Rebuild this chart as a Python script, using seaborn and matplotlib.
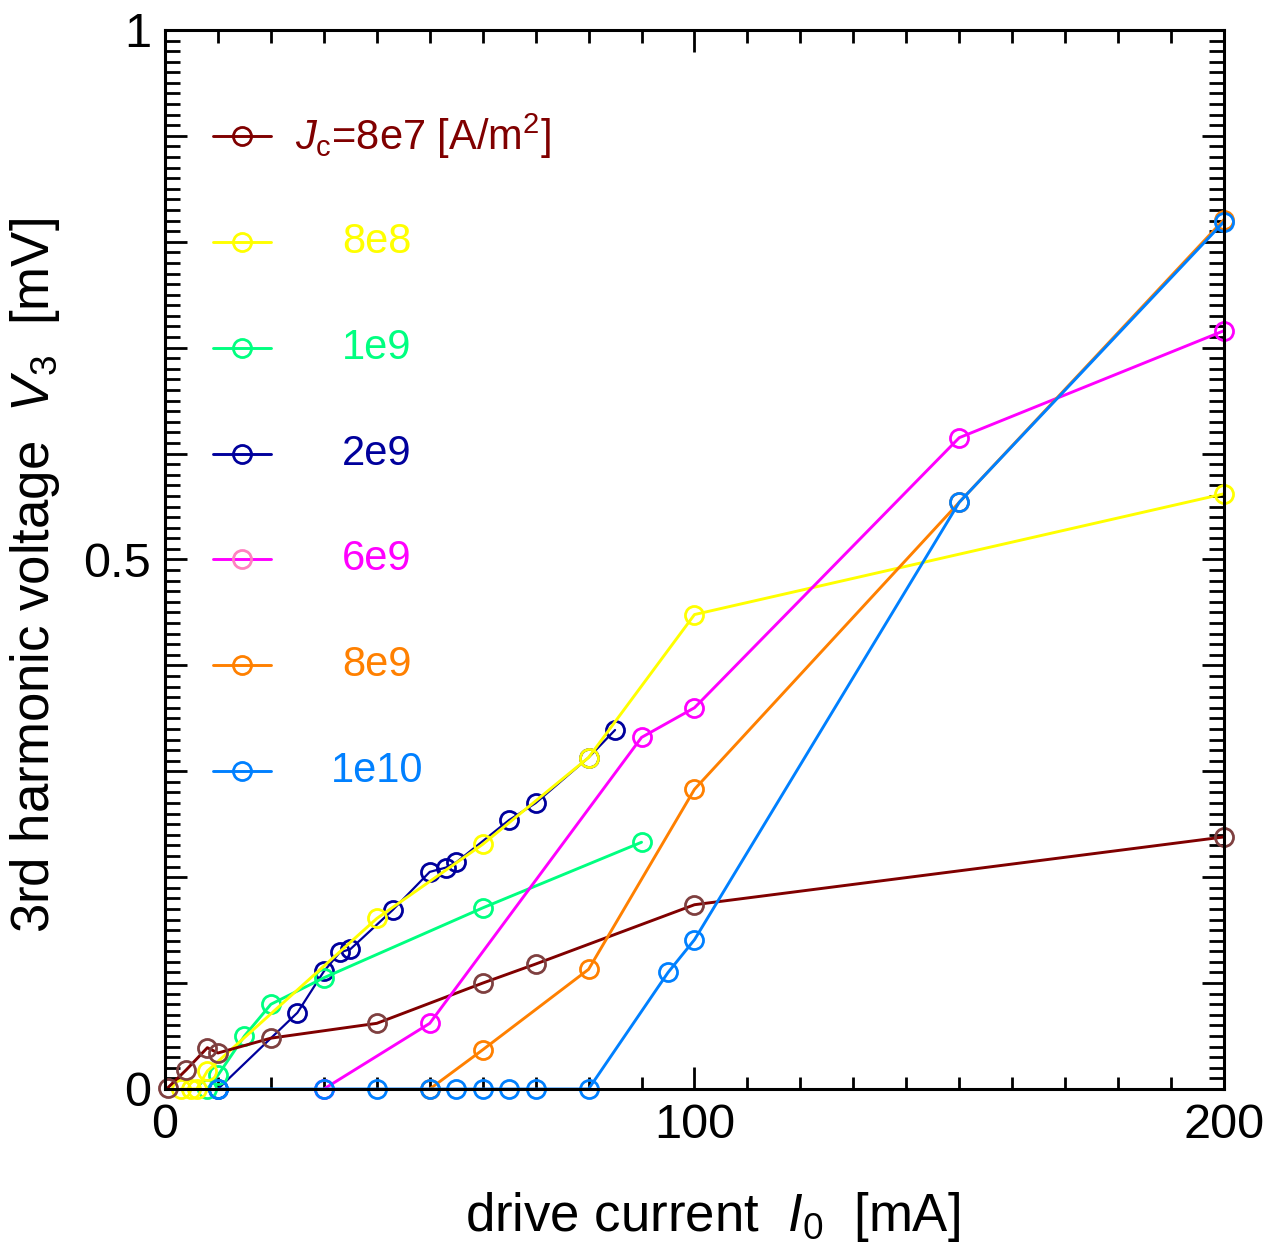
import numpy as np
import pandas as pd
import seaborn as sns
import matplotlib.pyplot as plt
from matplotlib.ticker import MultipleLocator, FuncFormatter

# data: drive current I0 [mA] vs 3rd harmonic voltage V3 [mV]
x_8e7 = [0.5, 4, 8, 10, 20, 40, 60, 70, 100, 200]
y_8e7 = [0.001, 0.018, 0.039, 0.034, 0.048, 0.062, 0.100, 0.118, 0.174, 0.238]

x_8e8 = [3, 5, 6, 8, 40, 60, 80, 100, 200]
y_8e8 = [0.0, 0.0, 0.0, 0.017, 0.161, 0.231, 0.313, 0.448, 0.562]

x_1e9 = [8, 10, 15, 20, 30, 60, 90]
y_1e9 = [0.0, 0.013, 0.050, 0.080, 0.105, 0.171, 0.233]

x_2e9 = [10, 25, 30, 33, 35, 43, 50, 53, 55, 65, 70, 80, 85]
y_2e9 = [0.0, 0.072, 0.111, 0.129, 0.132, 0.169, 0.205, 0.209, 0.214, 0.254, 0.270, 0.313, 0.339]

x_6e9 = [30, 50, 90, 100, 150, 200]
y_6e9 = [0.0, 0.062, 0.332, 0.360, 0.615, 0.716]

x_8e9 = [50, 60, 80, 100, 150, 200]
y_8e9 = [0.0, 0.037, 0.113, 0.283, 0.554, 0.821]

x_1e10 = [10, 30, 40, 50, 55, 60, 65, 70, 80, 95, 100, 150, 200]
y_1e10 = [0.0, 0.0, 0.0, 0.0, 0.0, 0.0, 0.0, 0.0, 0.0, 0.110, 0.141, 0.554, 0.819]

labels = [r"$J_{\rm c}$=8e7 [A/m$^2$]", "8e8", "1e9", "2e9", "6e9", "8e9", "1e10"]
line_colors = ["#800000", "#ffff00", "#00ff80", "#00009c", "#ff00ff", "#ff8000", "#0080ff"]
marker_colors = ["#7f4040", "#ffff00", "#00ff80", "#00009c", "#ff00ff", "#ff8000", "#0080ff"]
legend_marker_colors = ["#800000", "#ffff00", "#00ff80", "#00009c", "#ff80c0", "#ff8000", "#0080ff"]

series = [(x_8e7, y_8e7), (x_8e8, y_8e8), (x_1e9, y_1e9), (x_2e9, y_2e9),
          (x_6e9, y_6e9), (x_8e9, y_8e9), (x_1e10, y_1e10)]

sns.set_style("ticks")
plt.rcParams["font.family"] = ["Liberation Sans", "DejaVu Sans"]
plt.rcParams["mathtext.fontset"] = "custom"
plt.rcParams["mathtext.rm"] = "Liberation Sans"
plt.rcParams["mathtext.it"] = "Liberation Sans:italic"
plt.rcParams["text.color"] = "black"
plt.rcParams["axes.labelcolor"] = "black"

fig = plt.figure(figsize=(12.81, 12.43), dpi=100)
ax = fig.add_axes([0.1288, 0.1239, 0.8267, 0.8520])

draw_order = [3, 2, 1, 0, 4, 5, 6]
for i in draw_order:
    xs, ys = series[i]
    lw = 1.6 if i == 3 else 2.1
    sns.lineplot(x=xs, y=ys, ax=ax, color=line_colors[i], lw=lw, sort=False,
                 marker="o", markersize=13, markerfacecolor="none",
                 markeredgecolor=marker_colors[i], markeredgewidth=2.0,
                 clip_on=False)

# hand-made legend in the upper left
for i, lab in enumerate(labels):
    yy = 0.9 - 0.1 * i
    ax.plot([9, 20], [yy, yy], color=line_colors[i], lw=2.1)
    ax.plot([14.5], [yy], marker="o", ms=13, mfc="none",
            mec=legend_marker_colors[i], mew=2.0)
    if i == 0:
        ax.text(24.5, yy, lab, color=line_colors[i], fontsize=30,
                ha="left", va="center")
    else:
        ax.text(40, yy, lab, color=line_colors[i], fontsize=30,
                ha="center", va="center")

ax.set_xlim(0, 200)
ax.set_ylim(0, 1)
ax.xaxis.set_major_locator(MultipleLocator(100))
ax.xaxis.set_minor_locator(MultipleLocator(10))
ax.yaxis.set_major_locator(MultipleLocator(0.1))
ax.yaxis.set_minor_locator(MultipleLocator(0.01))
ax.yaxis.set_major_formatter(FuncFormatter(
    lambda v, p: {0: "0", 5: "0.5", 10: "1"}.get(int(round(v * 10)), "")))

ax.tick_params(which="both", direction="in", top=True, right=True,
               width=2.0, labelsize=35, pad=10, colors="black",
               labelcolor="black")
ax.tick_params(axis="y", which="major", length=16)
ax.tick_params(axis="y", which="minor", length=11)
ax.tick_params(axis="x", which="major", length=16)
ax.tick_params(axis="x", which="minor", length=9)
for sp in ax.spines.values():
    sp.set_linewidth(2.2)
    sp.set_color("black")

ax.set_xlabel("drive current  $I_0$  [mA]", fontsize=38)
ax.set_ylabel("3rd harmonic voltage  $V_3$  [mV]", fontsize=38)
ax.xaxis.set_label_coords(0.517, -0.095)
ax.yaxis.set_label_coords(-0.097, 0.485)

fig.savefig("out.png", dpi=100)
